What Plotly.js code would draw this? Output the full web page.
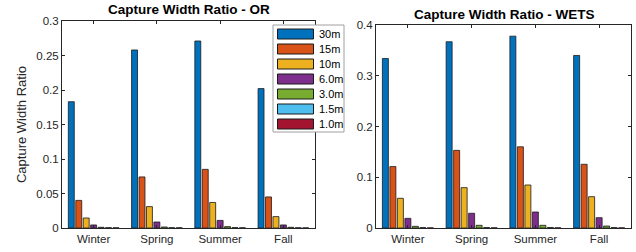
<!DOCTYPE html>
<html>
<head>
<meta charset="utf-8">
<script src="https://cdn.plot.ly/plotly-3.0.1.min.js"></script>
<style>html,body{margin:0;padding:0;background:#fff;}#chart{width:636px;height:252px;}</style>
</head>
<body>
<div id="chart"></div>
<script>
const seasons = ['Winter', 'Spring', 'Summer', 'Fall'];
const seriesNames = ['30m', '15m', '10m', '6.0m', '3.0m', '1.5m', '1.0m'];
const seriesColors = ['#0072BD', '#D95319', '#EDB120', '#7E2F8E', '#77AC30', '#4DBEEE', '#A2142F'];

// Capture width ratio - OR (rows: series, cols: seasons)
const orValues = [
  [0.183, 0.258, 0.271, 0.202],
  [0.040, 0.074, 0.085, 0.045],
  [0.0145, 0.031, 0.037, 0.0165],
  [0.0044, 0.0087, 0.011, 0.0044],
  [0.001, 0.0015, 0.002, 0.001],
  [0.0005, 0.0005, 0.0006, 0.0004],
  [0.0003, 0.0003, 0.0003, 0.0002]
];
// Capture width ratio - WETS
const wetsValues = [
  [0.334, 0.367, 0.378, 0.340],
  [0.121, 0.153, 0.160, 0.1255],
  [0.0585, 0.0795, 0.0847, 0.0617],
  [0.019, 0.029, 0.0315, 0.0203],
  [0.0033, 0.0053, 0.0053, 0.0039],
  [0.0008, 0.001, 0.001, 0.0008],
  [0.0003, 0.0004, 0.0004, 0.0003]
];
const orTicks = [0, 0.05, 0.1, 0.15, 0.2, 0.25, 0.3];
const wetsTicks = [0, 0.1, 0.2, 0.3, 0.4];

const W = 636, H = 252;
const FONT = 'Liberation Sans, Arial, sans-serif';
const AX = '#262626';

const traces = [];
seriesNames.forEach((name, i) => {
  traces.push({type: 'bar', x: seasons, y: orValues[i], name: name, xaxis: 'x', yaxis: 'y',
    marker: {color: seriesColors[i], line: {color: '#1a1a1a', width: 0.8}}, showlegend: false});
  traces.push({type: 'bar', x: seasons, y: wetsValues[i], name: name, xaxis: 'x2', yaxis: 'y2',
    marker: {color: seriesColors[i], line: {color: '#1a1a1a', width: 0.8}}, showlegend: false});
});

function xAxis(domain, anchor) {
  return {domain: domain, anchor: anchor, type: 'category', range: [-0.5, 3.5],
    showline: true, mirror: 'ticks', linecolor: AX, linewidth: 1,
    ticks: 'inside', ticklen: 3, tickcolor: AX, showgrid: false, zeroline: false,
    tickfont: {family: FONT, size: 11.5, color: AX}, fixedrange: true};
}
function yAxis(domain, anchor, range, ticks) {
  return {domain: domain, anchor: anchor, range: range, tickvals: ticks,
    showline: true, mirror: 'ticks', linecolor: AX, linewidth: 1,
    ticks: 'inside', ticklen: 3, tickcolor: AX, showgrid: false, zeroline: false,
    tickfont: {family: FONT, size: 11.5, color: AX}, fixedrange: true};
}

const shapes = [];
const annotations = [];
// legend box (pixel positions converted to paper)
const px = v => v / W, py = v => 1 - v / H;
shapes.push({type: 'rect', xref: 'paper', yref: 'paper', x0: px(273), x1: px(344), y0: py(132), y1: py(25),
  fillcolor: '#ffffff', line: {color: '#a0a0a0', width: 1}, layer: 'above'});
seriesNames.forEach((name, i) => {
  const cy = 34 + i * 15;
  shapes.push({type: 'rect', xref: 'paper', yref: 'paper', x0: px(277.5), x1: px(313.5), y0: py(cy + 5), y1: py(cy - 5),
    fillcolor: seriesColors[i], line: {color: '#1a1a1a', width: 1}, layer: 'above'});
  annotations.push({xref: 'paper', yref: 'paper', x: px(316.5), y: py(cy), xanchor: 'left', yanchor: 'middle',
    text: name, showarrow: false, font: {family: FONT, size: 11, color: '#000'}});
});
annotations.push({xref: 'paper', yref: 'paper', x: px(189), y: py(10), xanchor: 'center', yanchor: 'middle',
  text: '<b>Capture Width Ratio - OR</b>', showarrow: false, font: {family: FONT, size: 13.5, color: '#000'}});
annotations.push({xref: 'paper', yref: 'paper', x: px(504), y: py(14), xanchor: 'center', yanchor: 'middle',
  text: '<b>Capture Width Ratio - WETS</b>', showarrow: false, font: {family: FONT, size: 13.5, color: '#000'}});

const layout = {
  width: W, height: H, margin: {l: 0, r: 0, t: 0, b: 0},
  paper_bgcolor: '#ffffff', plot_bgcolor: '#ffffff',
  barmode: 'group', bargap: 0.1765, bargroupgap: 0.2,
  showlegend: false,
  xaxis: xAxis([62 / W, 315 / W], 'y'),
  yaxis: Object.assign(yAxis([24 / H, 231 / H], 'x', [0, 0.3], orTicks),
    {title: {text: 'Capture Width Ratio', font: {family: FONT, size: 13, color: AX}, standoff: 6}}),
  xaxis2: xAxis([376 / W, 631 / W], 'y2'),
  yaxis2: yAxis([24 / H, 227 / H], 'x2', [0, 0.4], wetsTicks),
  shapes: shapes, annotations: annotations,
  font: {family: FONT}
};

Plotly.newPlot('chart', traces, layout, {staticPlot: true, displayModeBar: false});
</script>
</body>
</html>
